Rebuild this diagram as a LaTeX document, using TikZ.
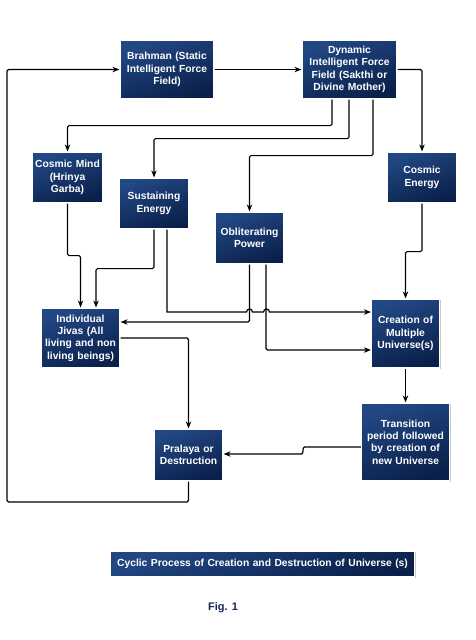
\documentclass[tikz,border=0pt]{standalone}
\usepackage{fontspec}
\setmainfont{Liberation Sans}
\usetikzlibrary{arrows.meta,shadows,calc}
\definecolor{boxtop}{RGB}{34,72,132}
\definecolor{boxbot}{RGB}{10,32,74}
\definecolor{figblue}{RGB}{22,38,92}
\tikzset{
  card/.style={draw=white, line width=1.2pt, top color=boxtop, bottom color=boxbot, shading angle=20,
    drop shadow={shadow xshift=1pt, shadow yshift=-1.2pt, opacity=0.35, fill=black!60},
    text=white, font=\bfseries\fontsize{10.3}{12.4}\selectfont, align=center, inner sep=2pt},
  arr/.style={-{Stealth[length=7pt,width=5.5pt]}, line width=1.2pt, rounded corners=1.5pt},
  ln/.style={line width=1.2pt, rounded corners=1.5pt}
}
\begin{document}
\begin{tikzpicture}[x=1pt,y=-1pt]
\useasboundingbox (0,0) rectangle (476,640);
\fill[white] (0,0) rectangle (476,640);
% nodes
\node[card, minimum width=94pt, minimum height=59pt, text width=90pt] (brahman) at (167,69.5) {Brahman (Static\\Intelligent Force\\Field)};
\node[card, minimum width=95pt, minimum height=59pt, text width=91pt] (dynamic) at (349.5,69.5) {Dynamic\\Intelligent Force\\Field (Sakthi or\\Divine Mother)};
\node[card, minimum width=69pt, minimum height=51pt, text width=67pt] (mind) at (67.5,177.5) {Cosmic Mind\\(Hrinya\\Garba)};
\node[card, minimum width=70pt, minimum height=51pt, text width=66pt] (sust) at (154,203.5) {Sustaining\\Energy};
\node[card, minimum width=69pt, minimum height=52pt, text width=65pt] (oblit) at (249.5,238) {Obliterating\\Power};
\node[card, minimum width=70pt, minimum height=51pt, text width=66pt] (cenergy) at (422,177.5) {Cosmic\\Energy};
\node[card, minimum width=77pt, minimum height=60pt, text width=75pt] (jivas) at (80.5,338) {Individual\\Jivas (All\\living and non\\living beings)};
\node[card, minimum width=68pt, minimum height=69pt, text width=64pt] (creation) at (405.5,333.5) {Creation of\\Multiple\\Universe(s)};
\node[card, minimum width=86pt, minimum height=78pt, text width=84pt] (trans) at (405.5,442) {Transition\\period followed\\by creation of\\new Universe};
\node[card, minimum width=69pt, minimum height=52pt, text width=65pt] (pralaya) at (188.5,455) {Pralaya or\\Destruction};
\node[card, minimum width=303pt, minimum height=26pt, text width=300pt] (caption) at (262.5,564) {Cyclic Process of Creation and Destruction of Universe (s)};
\node[text=figblue, font=\bfseries\fontsize{11}{13}\selectfont] (fig) at (223,608) {Fig. 1};
% connectors
\draw[arr] (brahman) -- (dynamic);
\draw[arr] (dynamic.east) -| (cenergy.north);
\draw[arr] ([xshift=-17.5pt]dynamic.south) -- ++(0,26) -| (mind.north);
\draw[arr] ([xshift=-0.5pt]dynamic.south) -- ++(0,39) -| (sust.north);
\draw[arr] ([xshift=23.5pt]dynamic.south) -- ++(0,56) -| (oblit.north);
\draw[arr] (mind.south) -- ++(0,52) -| (jivas.north);
\draw[arr] (sust.south) -- ++(0,39) -| ([xshift=15.5pt]jivas.north);
\draw[arr] (oblit.south) |- ([yshift=16pt]jivas.east);
\draw[arr] ([xshift=16.5pt]oblit.south) |- ([yshift=-16.5pt]creation.west);
\draw[arr, rounded corners=0pt] ([xshift=13pt]sust.south) -- (167,312) -- (246.5,312) arc[start angle=180,end angle=0,radius=3pt] -- (263.5,312) arc[start angle=180,end angle=0,radius=3pt] -- ([yshift=21.5pt]creation.west);
\draw[arr] (cenergy.south) -- ++(0,48) -| (creation.north);
\draw[arr] (creation) -- (trans);
\draw[arr] ([yshift=-5pt]trans.west) -- (306,447) .. controls (302,447) and (304,454) .. (300,454) -- ([yshift=1pt]pralaya.east);
\draw[arr] (jivas.east) -| (pralaya.north);
\draw[arr] (pralaya.south) |- (7,502) |- (brahman.west);
\end{tikzpicture}
\end{document}
